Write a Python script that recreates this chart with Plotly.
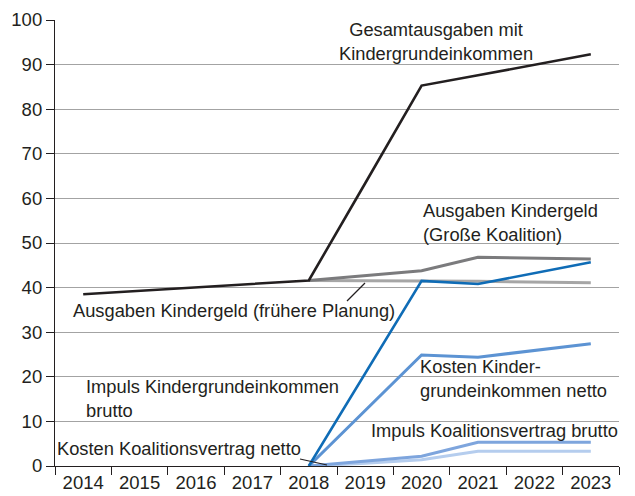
import plotly.graph_objects as go

years = ["2014", "2015", "2016", "2017", "2018", "2019", "2020", "2021", "2022", "2023"]

# Spending series in billion euros
gesamt = [38.5, 39.3, 40.1, 40.8, 41.6, 63.4, 85.3, 87.6, 90.0, 92.3]
kindergeld_groko = [None, None, None, None, 41.6, 42.7, 43.8, 46.8, 46.6, 46.4]
kindergeld_frueher = [None, None, None, None, 41.6, 41.6, 41.5, 41.4, 41.2, 41.1]
impuls_kge_brutto = [None, None, None, None, 0.0, 20.7, 41.5, 40.8, 43.2, 45.7]
kosten_kge_netto = [None, None, None, None, 0.0, 12.5, 24.9, 24.4, 25.9, 27.4]
impuls_kv_brutto = [None, None, None, None, 0.0, 1.1, 2.2, 5.3, 5.3, 5.3]
kosten_kv_netto = [None, None, None, None, 0.0, 0.6, 1.4, 3.3, 3.3, 3.3]

y_ticks = [0, 10, 20, 30, 40, 50, 60, 70, 80, 90, 100]

TEXT = "#231f20"
FONT = "Liberation Sans, Arial, Helvetica, sans-serif"
LABEL_SIZE = 18.3
TICK_SIZE = 18.5

W, H = 635, 496
L, R, T, B = 55, 16, 20, 30
PW, PH = W - L - R, H - T - B


def px(x):
    return (x - L) / PW


def py(y):
    return (H - B - y) / PH


fig = go.Figure()

series = [
    (kindergeld_frueher, "#a6a6a6", 3),
    (kindergeld_groko, "#7b7b7d", 3),
    (kosten_kv_netto, "#b5cdee", 3),
    (impuls_kv_brutto, "#7ea5dd", 3),
    (kosten_kge_netto, "#5c93d3", 3),
    (impuls_kge_brutto, "#0f6cb6", 2.6),
    (gesamt, TEXT, 2.6),
]
for vals, color, width in series:
    fig.add_trace(go.Scatter(
        x=years, y=vals, mode="lines",
        line=dict(color=color, width=width),
        hoverinfo="skip", showlegend=False,
    ))

labels = [
    ("Gesamtausgaben mit<br>Kindergrundeinkommen", 436, 41, "center"),
    ("Ausgaben Kindergeld<br>(Große Koalition)", 421, 222, "left"),
    ("Ausgaben Kindergeld (frühere Planung)", 71, 310, "left"),
    ("Impuls Kindergrundeinkommen<br>brutto", 84, 398, "left"),
    ("Kosten Kinder-<br>grundeinkommen netto", 418, 378, "left"),
    ("Impuls Koalitionsvertrag brutto", 369, 430, "left"),
    ("Kosten Koalitionsvertrag netto", 55, 448, "left"),
]
for text, x, y, align in labels:
    fig.add_annotation(
        text=text, x=px(x), y=py(y), xref="paper", yref="paper",
        xanchor=align, yanchor="middle", align=align, showarrow=False,
        font=dict(family=FONT, size=LABEL_SIZE, color=TEXT),
    )

# leader lines from labels to their curves
for x0, y0, x1, y1 in [(347, 301, 365, 283), (300, 459, 327, 465)]:
    fig.add_shape(type="line", xref="paper", yref="paper",
                  x0=px(x0), y0=py(y0), x1=px(x1), y1=py(y1),
                  line=dict(color=TEXT, width=1.2))

fig.update_xaxes(
    type="category", tickson="boundaries", ticks="outside", ticklen=8,
    tickcolor=TEXT, showline=True, linecolor=TEXT, linewidth=1.2,
    showgrid=False, range=[-0.5, 9.5], automargin=False,
    tickfont=dict(family=FONT, size=TICK_SIZE, color=TEXT),
)
fig.update_yaxes(
    range=[0, 100], tickvals=y_ticks, ticks="outside", ticklen=8,
    tickcolor=TEXT, showline=True, linecolor=TEXT, linewidth=1.2,
    showgrid=True, gridcolor="#a3a3a3", gridwidth=1, zeroline=False,
    automargin=False,
    tickfont=dict(family=FONT, size=TICK_SIZE, color=TEXT),
)

fig.update_layout(
    width=W, height=H,
    margin=dict(l=L, r=R, t=T, b=B),
    paper_bgcolor="white", plot_bgcolor="white",
    showlegend=False,
)

fig.write_html("out.html")
